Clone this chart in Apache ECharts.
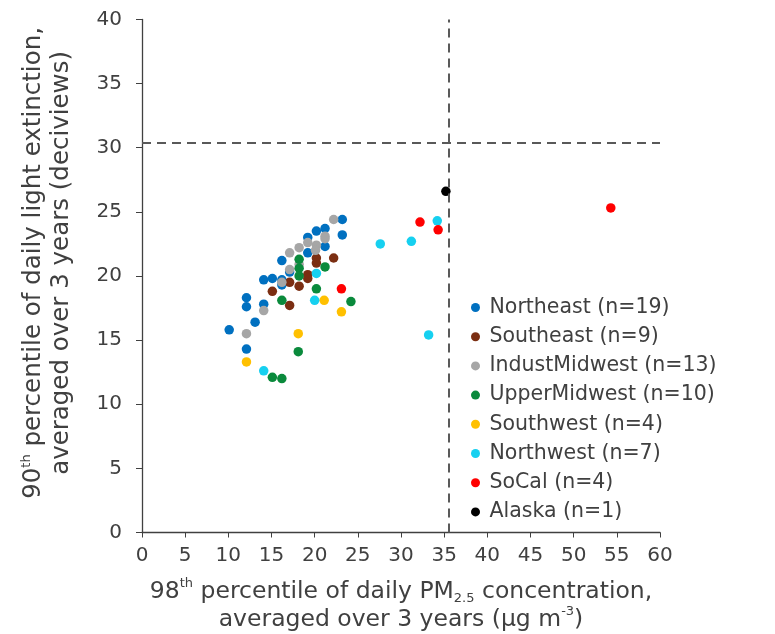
<!DOCTYPE html>
<html>
<head>
<meta charset="utf-8">
<script src="https://cdn.jsdelivr.net/npm/echarts@6/dist/echarts.min.js"></script>
<style>html,body{margin:0;padding:0;background:#fff}#c{width:775px;height:634px}</style>
</head>
<body>
<div id="c"></div>
<script>
const regionNames = ['Northeast (n=19)','Southeast (n=9)','IndustMidwest (n=13)','UpperMidwest (n=10)','Southwest (n=4)','Northwest (n=7)','SoCal (n=4)','Alaska (n=1)'];
const regionColors = ['#0070C0','#7B2E12','#A6A6A6','#0A8A3C','#FFC000','#16D0F0','#FF0000','#000000'];
const northeast = [[23.2,24.4],[21.2,23.7],[20.2,23.5],[19.2,23.0],[23.2,23.2],[21.2,22.3],[19.2,21.8],[16.2,21.2],[14.1,19.7],[15.1,19.8],[16.2,19.7],[16.2,19.3],[14.1,17.8],[12.1,18.3],[12.1,17.6],[13.1,16.4],[10.1,15.8],[12.1,14.3],[17.1,20.3]];
const southeast = [[20.2,21.4],[22.2,21.4],[19.2,20.1],[19.2,19.8],[17.1,19.5],[18.2,19.2],[15.1,18.8],[17.1,17.7],[20.2,21.0]];
const industMidwest = [[22.2,24.4],[21.2,23.1],[20.2,22.4],[18.2,22.2],[17.1,21.8],[17.1,20.5],[14.1,17.3],[12.1,15.5],[20.1,22.0],[19.2,22.6],[18.2,20.9],[16.2,19.5],[21.2,22.9]];
const upperMidwest = [[18.2,21.3],[18.2,20.6],[18.2,20.0],[21.2,20.7],[20.2,19.0],[16.2,18.1],[24.2,18.0],[18.1,14.1],[15.1,12.1],[16.2,12.0]];
const southwest = [[21.1,18.1],[23.1,17.2],[18.1,15.5],[12.1,13.3]];
const northwest = [[20.2,20.2],[20.0,18.1],[14.1,12.6],[27.6,22.5],[31.2,22.7],[34.2,24.3],[33.2,15.4]];
const soCal = [[23.1,19.0],[32.2,24.2],[34.3,23.6],[54.3,25.3]];
const alaska = [[35.2,26.6]];
const seriesData = [northeast, southeast, industMidwest, upperMidwest, southwest, northwest, soCal, alaska];
const xTicks = {min:0, max:60, interval:5};
const yTicks = {min:0, max:40, interval:5};
const pmStandard = 35.5;
const visStandard = 30.4;

const font = 'DejaVu Sans';
const txt = '#404040';
const chart = echarts.init(document.getElementById('c'), null, {renderer:'canvas'});
const series = regionNames.map((n,i)=>({
  name:n, type:'scatter', data:seriesData[i], symbolSize:9.5,
  itemStyle:{color:regionColors[i], opacity:1}, z:3
}));
series.push({
  type:'scatter', data:[], silent:true, clip:false,
  markLine:{
    silent:true, symbol:'none', animation:false,
    label:{show:false},
    lineStyle:{type:[9,6], color:'#595959', width:2},
    data:[
      [{coord:[pmStandard,0]},{coord:[pmStandard,40]}],
      [{coord:[0,visStandard]},{coord:[60,visStandard]}]
    ]
  }
});
const makeRich = (size) => ({
  n:{fontSize:size, color:txt, fontFamily:font, lineHeight:28},
  sup:{fontSize:13, color:txt, fontFamily:font, verticalAlign:'top', lineHeight:28},
  sub:{fontSize:13, color:txt, fontFamily:font, verticalAlign:'bottom', lineHeight:22}
});
chart.setOption({
  animation:false,
  textStyle:{fontFamily:font},
  grid:{left:142, right:115, top:19.4, bottom:101.5, containLabel:false, outerBoundsMode:'none'},
  legend:{
    orient:'vertical', left:466, top:292, itemGap:8.2,
    icon:'circle', itemWidth:18, itemHeight:9,
    textStyle:{fontFamily:font, fontSize:20.5, color:txt},
    data:regionNames
  },
  xAxis:{
    type:'value', min:xTicks.min, max:xTicks.max, interval:xTicks.interval,
    splitLine:{show:false},
    axisLine:{lineStyle:{color:'#404040', width:1.3}},
    axisTick:{show:true, length:5, lineStyle:{color:'#404040'}},
    axisLabel:{fontFamily:font, fontSize:20, color:txt, margin:13},
    name:'{n|98}{sup|th}{n| percentile of daily PM}{sub|2.5}{n| concentration,}\n{n|averaged over 3 years (µg m}{sup|-3}{n|)}',
    nameLocation:'middle', nameGap:45,
    nameTextStyle:{fontFamily:font, color:txt, lineHeight:28, rich:makeRich(23.5)}
  },
  yAxis:{
    type:'value', min:yTicks.min, max:yTicks.max, interval:yTicks.interval,
    splitLine:{show:false},
    axisLine:{show:true, lineStyle:{color:'#404040', width:1.3}},
    axisTick:{show:true, length:6, lineStyle:{color:'#404040'}},
    axisLabel:{fontFamily:font, fontSize:20, color:txt, margin:20},
    name:'{n|90}{sup|th}{n| percentile of daily light extinction,}\n{n|averaged over 3 years (deciviews)}',
    nameLocation:'middle', nameGap:66,
    nameTextStyle:{fontFamily:font, color:txt, lineHeight:28, padding:[0,0,0,26], rich:makeRich(24.5)}
  },
  series:series
});
</script>
</body>
</html>
